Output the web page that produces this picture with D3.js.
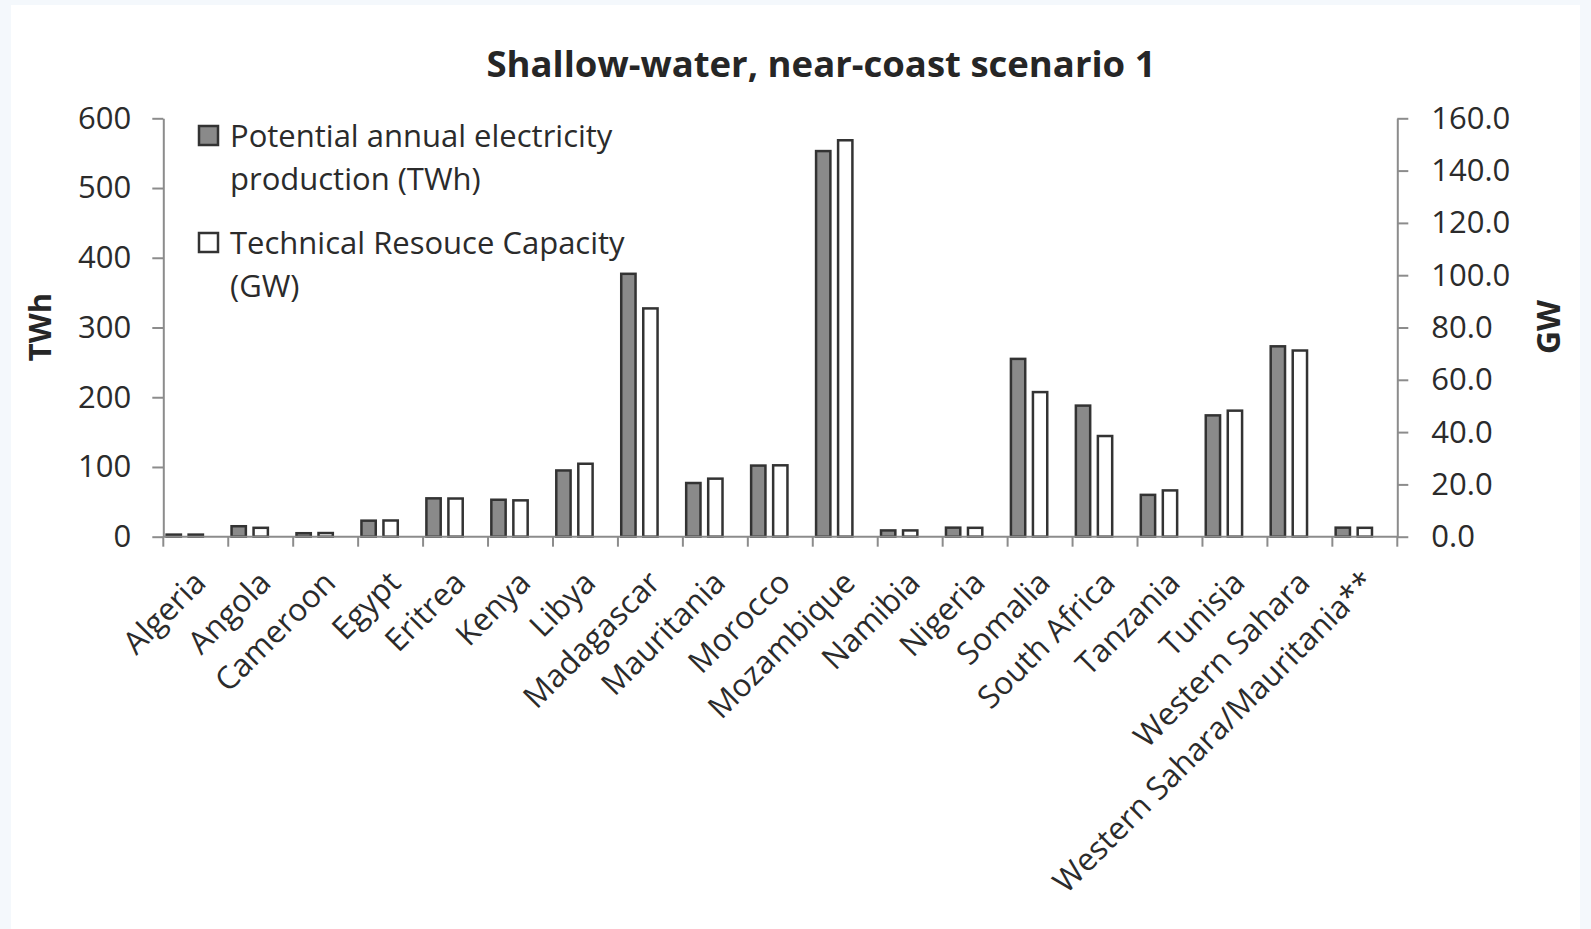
<!DOCTYPE html>
<html>
<head>
<meta charset="utf-8">
<script src="https://cdn.jsdelivr.net/npm/d3@7"></script>
<style>
  html, body { margin: 0; padding: 0; background: #f4f8fc; }
  svg { display: block; font-family: "Open Sans", sans-serif; }
  .axis path, .axis line { stroke: #8c8c8c; stroke-width: 2; }
  .axis text { fill: #2b2b2b; font-size: 31px; font-family: "Open Sans", sans-serif; }
</style>
</head>
<body>
<div id="chart"></div>
<script>
// Data
const countries = ["Algeria", "Angola", "Cameroon", "Egypt", "Eritrea", "Kenya", "Libya",
  "Madagascar", "Mauritania", "Morocco", "Mozambique", "Namibia", "Nigeria", "Somalia",
  "South Africa", "Tanzania", "Tunisia", "Western Sahara", "Western Sahara/Mauritania**"];
const productionTWh = [3, 15, 5, 23, 55, 53, 95, 377, 77, 102, 553, 9, 13, 255, 188, 60, 174, 273, 13];
const capacityGW = [0.8, 3.4, 1.4, 6.2, 14.6, 13.9, 27.9, 87.3, 22.2, 27.3, 151.6, 2.4, 3.4, 55.3, 38.5, 17.7, 48.2, 71.2, 3.4];
const twhTicks = [0, 100, 200, 300, 400, 500, 600];
const gwTicks = [0, 20, 40, 60, 80, 100, 120, 140, 160];
const legendLabels = [
  ["Potential annual electricity", "production (TWh)"],
  ["Technical Resouce Capacity", "(GW)"]
];

const width = 1591;
const height = 929;
const margin = { top: 118.3, right: 193.7, bottom: 392.3, left: 163.3 };
const innerWidth = width - margin.left - margin.right;
const innerHeight = height - margin.top - margin.bottom;

const svg = d3.select("#chart")
  .append("svg")
    .attr("width", width)
    .attr("height", height);

// Page background and white card
svg.append("rect")
  .attr("width", width).attr("height", height)
  .attr("fill", "#f4f8fc");
svg.append("rect")
  .attr("x", 11).attr("y", 5)
  .attr("width", 1569).attr("height", height - 5)
  .attr("fill", "#ffffff");

const innerChart = svg
  .append("g")
    .attr("transform", `translate(${margin.left}, ${margin.top})`);

// Scales
const xScale = d3.scaleBand()
  .domain(countries)
  .range([0, innerWidth]);
const subScale = d3.scaleBand()
  .domain(["twh", "gw", "spare"])
  .range([0, xScale.bandwidth()])
  .paddingInner(0.35)
  .paddingOuter(0.15);
const yLeft = d3.scaleLinear().domain([0, 600]).range([innerHeight, 0]);
const yRight = d3.scaleLinear().domain([0, 160]).range([innerHeight, 0]);

// Bars
const rows = countries.map((c, i) => ({ country: c, twh: productionTWh[i], gw: capacityGW[i] }));
innerChart.append("g")
  .selectAll("rect")
  .data(rows)
  .join("rect")
    .attr("x", d => xScale(d.country) + subScale("twh"))
    .attr("y", d => yLeft(d.twh))
    .attr("width", subScale.bandwidth())
    .attr("height", d => innerHeight - yLeft(d.twh))
    .attr("fill", "#8a8a8a")
    .attr("stroke", "#333333")
    .attr("stroke-width", 2.5);
innerChart.append("g")
  .selectAll("rect")
  .data(rows)
  .join("rect")
    .attr("x", d => xScale(d.country) + subScale("gw"))
    .attr("y", d => yRight(d.gw))
    .attr("width", subScale.bandwidth())
    .attr("height", d => innerHeight - yRight(d.gw))
    .attr("fill", "#ffffff")
    .attr("stroke", "#333333")
    .attr("stroke-width", 2.5);

// Left axis
const leftAxis = d3.axisLeft(yLeft)
  .tickValues(twhTicks)
  .tickSize(11)
  .tickSizeOuter(0)
  .tickPadding(21);
innerChart.append("g")
  .attr("class", "axis")
  .call(leftAxis);

// Right axis
const rightAxis = d3.axisRight(yRight)
  .tickValues(gwTicks)
  .tickFormat(d3.format(".1f"))
  .tickSize(11)
  .tickSizeOuter(0)
  .tickPadding(23);
innerChart.append("g")
  .attr("class", "axis")
  .attr("transform", `translate(${innerWidth}, 0)`)
  .call(rightAxis);

// Bottom axis: ticks sit between categories
const bottom = innerChart.append("g")
  .attr("class", "axis")
  .attr("transform", `translate(0, ${innerHeight})`);
bottom.append("line")
  .attr("x1", 0).attr("x2", innerWidth);
bottom.selectAll(".tick-mark")
  .data(countries.map(c => xScale(c)).concat([innerWidth]))
  .join("line")
    .attr("class", "tick-mark")
    .attr("x1", d => d).attr("x2", d => d)
    .attr("y1", 0).attr("y2", 10);
bottom.selectAll(".label")
  .data(countries)
  .join("text")
    .attr("class", "label")
    .attr("text-anchor", "end")
    .attr("dy", "0.35em")
    .style("font-size", "31.5px")
    .attr("transform", d => `translate(${xScale(d) + xScale.bandwidth() / 2 + 4}, 40) rotate(-45)`)
    .text(d => d);

// Title
svg.append("text")
  .attr("x", 821)
  .attr("y", 77)
  .attr("text-anchor", "middle")
  .attr("font-size", "36.5px")
  .attr("font-weight", 700)
  .attr("fill", "#262626")
  .text("Shallow-water, near-coast scenario 1");

// Axis titles
svg.append("text")
  .attr("transform", `translate(51, 327) rotate(-90)`)
  .attr("text-anchor", "middle")
  .attr("font-size", "31px")
  .attr("font-weight", 700)
  .attr("fill", "#262626")
  .text("TWh");
svg.append("text")
  .attr("transform", `translate(1560, 327) rotate(-90)`)
  .attr("text-anchor", "middle")
  .attr("font-size", "32px")
  .attr("font-weight", 700)
  .attr("fill", "#262626")
  .text("GW");

// Legend
const legend = svg.append("g")
  .attr("transform", "translate(199, 126)");
const legendItems = legend.selectAll("g")
  .data(legendLabels)
  .join("g")
    .attr("transform", (d, i) => `translate(0, ${i * 107})`);
legendItems.append("rect")
  .attr("width", 19).attr("height", 19)
  .attr("fill", (d, i) => i === 0 ? "#8a8a8a" : "#ffffff")
  .attr("stroke", "#333333")
  .attr("stroke-width", 2.5);
legendItems.append("text")
  .attr("x", 31)
  .attr("y", 21)
  .attr("font-size", "31px")
  .attr("fill", "#2b2b2b")
  .selectAll("tspan")
  .data(d => d)
  .join("tspan")
    .attr("x", 31)
    .attr("dy", (d, i) => i === 0 ? 0 : 43)
    .text(d => d);
</script>
</body>
</html>
